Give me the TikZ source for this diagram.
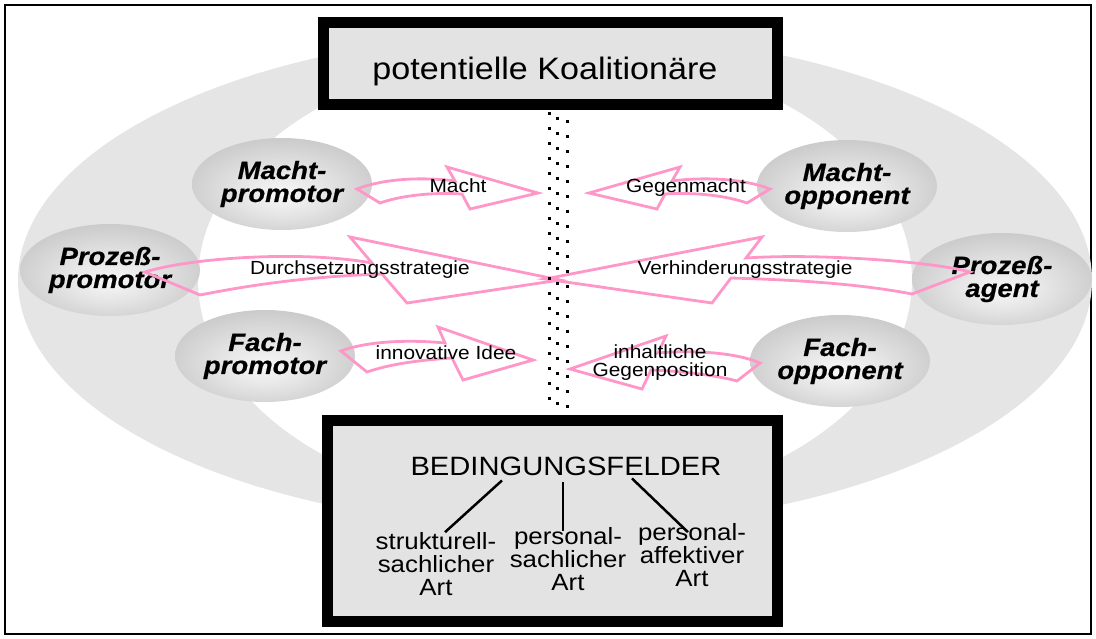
\documentclass[tikz,border=0pt]{standalone}
\usepackage{fontspec}
\setmainfont{Liberation Sans}[FakeStretch=1.1]
\usetikzlibrary{shapes.geometric}
\definecolor{rosa}{RGB}{255,150,200}
\pgfdeclareradialshading{akteurfuell}{\pgfpoint{0bp}{-6bp}}{color(0bp)=(white!97!black); color(12bp)=(white!90!black); color(30bp)=(white!78!black); color(50bp)=(white!66!black)}

\begin{document}
\begin{tikzpicture}[x=1pt, y=-1pt,
    akteur/.style={ellipse, inner sep=0pt, minimum width=180pt, minimum height=92pt,
        shading=akteurfuell, align=center,
        font=\fontsize{25}{23}\selectfont\bfseries\itshape\addfontfeatures{FakeBold=0.6}},
    pfeil/.style={draw=rosa, line width=2.8pt, line join=miter},
    pfeiltext/.style={inner sep=0pt, align=center, font=\fontsize{19}{18}\selectfont},
    kasten/.style={draw=black, line width=11pt, fill=gray!22, inner sep=0pt},
    art/.style={inner sep=0pt, align=center, font=\fontsize{23.5}{23}\selectfont},
    strich/.style={line width=2.5pt}]
    \useasboundingbox (0,0) rectangle (1096,638);
    \draw[line width=2pt] (5,5) rectangle (1091,634);

    % grauer Ring
    \fill[gray!20, even odd rule] (555,280) ellipse [x radius=537pt, y radius=248pt]
                                  (555,280) ellipse [x radius=357pt, y radius=230pt];

    \node[akteur] (machtpro) at (282,184) {Macht-\\promotor};
    \node[akteur] (machtopp) at (847,186) {Macht-\\opponent};
    \node[akteur] (prozpro) at (110,270) {Prozeß-\\promotor};
    \node[akteur] (prozag) at (1002,279) {Prozeß-\\agent};
    \node[akteur] (fachpro) at (265,356) {Fach-\\promotor};
    \node[akteur] (fachopp) at (840,361) {Fach-\\opponent};

    % Pfeile
    \draw[pfeil] (357,189) .. controls (385,178) and (425,177) .. (455,181) -- (447,167) -- (538,193)
        -- (470,209) -- (462,194) .. controls (430,192) and (400,196) .. (380,203) -- cycle;
    \draw[pfeil] (770,189) .. controls (742,178) and (702,177) .. (672,181) -- (680,167) -- (589,193)
        -- (657,209) -- (665,194) .. controls (697,192) and (727,196) .. (747,203) -- cycle;
    \draw[pfeil] (145,272) .. controls (190,258) and (300,250) .. (372,263) -- (350,237) -- (560,280)
        -- (407,303) -- (382,274) .. controls (320,276) and (260,283) .. (200,295) -- cycle;
    \draw[pfeil] (970,272) .. controls (935,262) and (820,253) .. (746,258) -- (762,237) -- (545,279)
        -- (712,303) -- (731,278) .. controls (800,280) and (860,284) .. (912,294) -- cycle;
    \draw[pfeil] (341,351) .. controls (370,340) and (415,340) .. (445,343) -- (438,327) -- (533,360)
        -- (463,380) -- (452,358) .. controls (420,360) and (390,364) .. (367,372) -- cycle;
    \draw[pfeil] (760,363) .. controls (735,352) and (690,350) .. (658,353) -- (666,336) -- (570,369)
        -- (642,389) -- (651,370) .. controls (680,371) and (715,375) .. (737,381) -- cycle;

    \node[pfeiltext, anchor=base] (lmacht) at (458,192) {Macht};
    \node[pfeiltext, anchor=base] (lgegen) at (686,192) {Gegenmacht};
    \node[pfeiltext, anchor=base] (ldurch) at (360,274) {Durchsetzungsstrategie};
    \node[pfeiltext, anchor=base] (lverh) at (745,274) {Verhinderungsstrategie};
    \node[pfeiltext, anchor=base] (linno) at (446,359) {innovative Idee};
    \node[pfeiltext] (linhalt) at (660,363) {inhaltliche\\Gegenposition};

    % gepunktete Trennlinie
    \foreach \k in {0,...,19} {
        \fill (548,112+15*\k) rectangle ++(3,3);
        \fill (556,117+15*\k) rectangle ++(3,3);
        \fill (566,120+15*\k) rectangle ++(3,3);
    }

    \node[kasten, minimum width=454pt, minimum height=82pt] (koal) at (550.5,63.5) {};
    \node[anchor=base, inner sep=0pt, font=\fontsize{31}{31}\selectfont] (koaltext) at (545,79) {potentielle Koalitionäre};

    \node[kasten, minimum width=450pt, minimum height=201pt] (bed) at (552.5,521) {};
    \node[anchor=base, inner sep=0pt, font=\fontsize{26.5}{26.5}\selectfont] (bedtext) at (566,475) {BEDINGUNGSFELDER};
    \node[art] (struk) at (436,564) {strukturell-\\sachlicher\\Art};
    \node[art] (persach) at (568,559) {personal-\\sachlicher\\Art};
    \node[art] (peraff) at (692,555) {personal-\\affektiver\\Art};

    \draw[strich] ([xshift=-64pt, yshift=-5pt]bedtext.south) -- ([xshift=9pt]struk.north);
    \draw[strich] ([xshift=-3pt, yshift=-7pt]bedtext.south) -- ([xshift=-5pt, yshift=-4pt]persach.north);
    \draw[strich] ([xshift=66pt, yshift=-3pt]bedtext.south) -- ([xshift=-4pt, yshift=-9pt]peraff.north);
\end{tikzpicture}
\end{document}
